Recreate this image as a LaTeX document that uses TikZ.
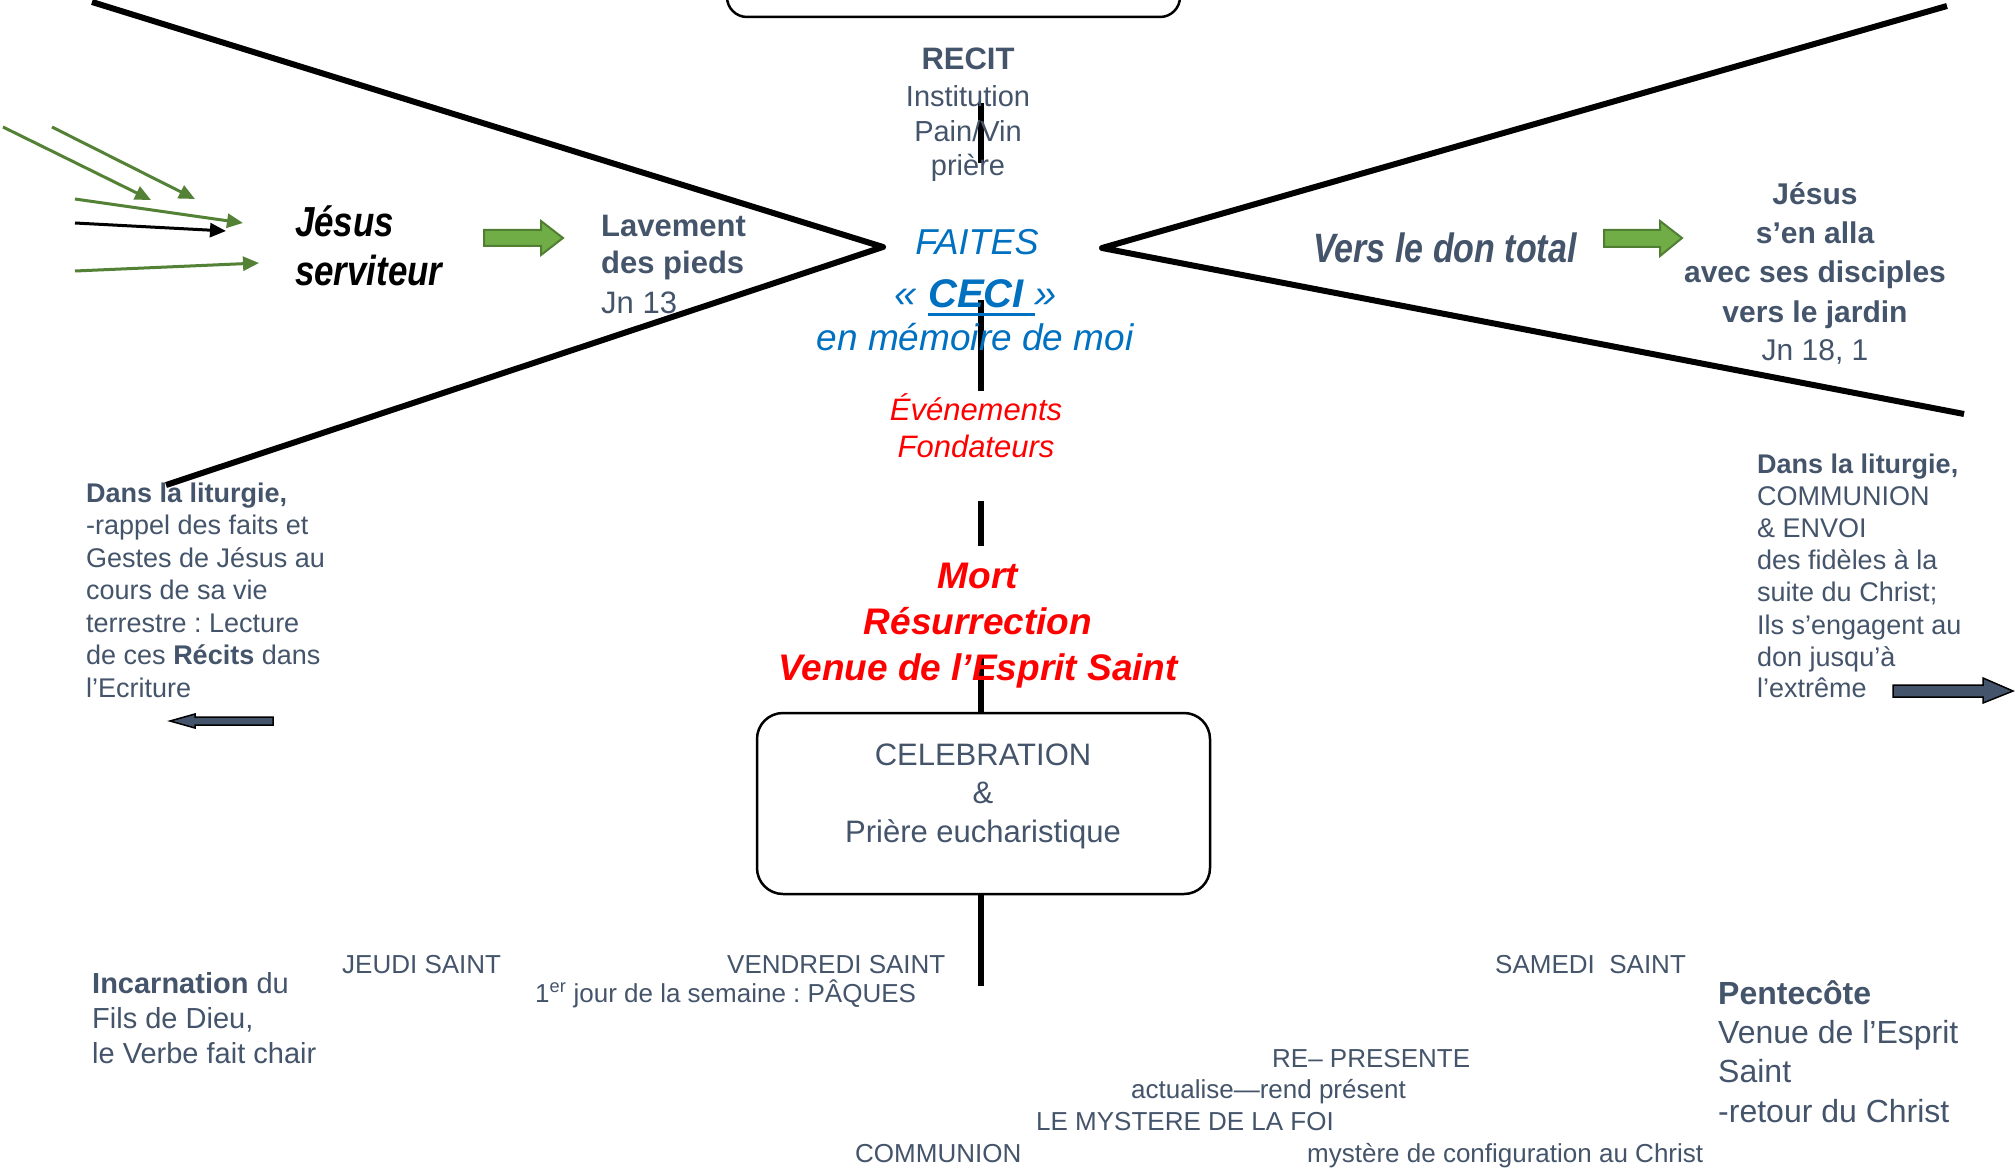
\documentclass[tikz,border=0pt]{standalone}
\usepackage{fontspec}
\setmainfont{Liberation Sans}
\usepackage{graphicx}
\usetikzlibrary{arrows.meta}
\definecolor{slate}{HTML}{44546A}
\definecolor{ablue}{HTML}{0070C0}
\definecolor{ared}{HTML}{FF0000}
\definecolor{gfill}{HTML}{70AD47}
\definecolor{gline}{HTML}{507E32}
\definecolor{gthin}{HTML}{538135}
\frenchspacing
\newcommand\myfs[1]{\fontsize{#1}{#1}\selectfont}
\newsavebox\ulbox
\newcommand\myul[1]{\sbox\ulbox{#1}\rlap{\raisebox{-8pt}{\rule{\wd\ulbox}{3.5pt}}}\usebox\ulbox}
\newcommand\narrow[1]{\scalebox{0.83}[1]{#1}}
\tikzset{
  lt/.style={inner sep=0pt, anchor=base west, text=slate},
  ct/.style={inner sep=0pt, anchor=base, text=slate},
  chev/.style={line width=6pt, line join=round, black},
  vseg/.style={line width=6pt, black},
  thinarr/.style={line width=3pt, -{Triangle[length=16pt,width=14pt]}},
  blockarr/.style={fill=gfill, draw=gline, line width=2pt},
  darkarr/.style={fill=slate, draw=black, line width=1.5pt},
  frame/.style={draw=black, line width=2.5pt, rounded corners=26pt}
}
\begin{document}
\begin{tikzpicture}[x=1pt,y=-1pt]
\useasboundingbox (0,0) rectangle (2015,1174);
\fill[white] (0,0) rectangle (2015,1174);
\clip (0,0) rectangle (2015,1174);

% top box (cut by the top edge)
\draw[frame, rounded corners=20pt] (727,-60) rectangle (1180,17);

% chevrons
\coordinate (lt1) at (92,2);
\coordinate (ltip) at (883,247);
\coordinate (lt2) at (166,485);
\draw[chev] (lt1) -- (ltip) -- (lt2);
\coordinate (rt1) at (1947,6);
\coordinate (rtip) at (1102,248);
\coordinate (rt2) at (1964,414);
\draw[chev] (rt1) -- (rtip) -- (rt2);

% celebration box
\node[frame, minimum width=453pt, minimum height=181pt, inner sep=0pt] (celeb) at (983.5,803.5) {};

% vertical segments
\coordinate (v1a) at (981,103); \coordinate (v1b) at (981,163);
\coordinate (v2a) at (981,300); \coordinate (v2b) at (981,391);
\coordinate (v3a) at (981,501); \coordinate (v3b) at (981,546);
\coordinate (v4a) at (981,655); \coordinate (v4b) at (981,713);
\coordinate (v5a) at (981,894); \coordinate (v5b) at (981,986);
\draw[vseg] (v1a) -- (v1b);
\draw[vseg] (v2a) -- (v2b);
\draw[vseg] (v3a) -- (v3b);
\draw[vseg] (v4a) -- (v4b);
\draw[vseg] (v5a) -- (v5b);

% thin arrows at left
\coordinate (a1s) at (3,127);  \coordinate (a1e) at (151,200);
\coordinate (a2s) at (52,127); \coordinate (a2e) at (195,199);
\coordinate (a3s) at (75,199); \coordinate (a3e) at (243,223);
\coordinate (a4s) at (75,223); \coordinate (a4e) at (226,231);
\coordinate (a5s) at (75,271); \coordinate (a5e) at (259,263);
\draw[thinarr, gthin] (a1s) -- (a1e);
\draw[thinarr, gthin] (a2s) -- (a2e);
\draw[thinarr, gthin] (a3s) -- (a3e);
\draw[thinarr, black] (a4s) -- (a4e);
\draw[thinarr, gthin] (a5s) -- (a5e);

% block arrows
\draw[blockarr] (484,230) -- (541,230) -- (541,221) -- (563,238) -- (541,255) -- (541,246) -- (484,246) -- cycle;
\draw[blockarr] (1604,230) -- (1660,230) -- (1660,221) -- (1682,238) -- (1660,256) -- (1660,247) -- (1604,247) -- cycle;
\draw[darkarr] (273,717) -- (195,717) -- (195,714) -- (170,721) -- (195,728) -- (195,725) -- (273,725) -- cycle;
\draw[darkarr] (1893,685) -- (1983,685) -- (1983,678) -- (2013,691) -- (1983,703) -- (1983,697) -- (1893,697) -- cycle;

% Jesus serviteur
\node[inner sep=0pt, anchor=base west, font=\myfs{42}\bfseries\itshape] (js1) at (295,237) {\narrow{Jésus}};
\node[inner sep=0pt, anchor=base west, font=\myfs{42}\bfseries\itshape] (js2) at (295,285) {\narrow{serviteur}};

% Lavement
\node[lt, font=\myfs{31}\bfseries] (lav1) at (601,237) {Lavement};
\node[lt, font=\myfs{31}\bfseries] (lav2) at (601,274) {des pieds};
\node[lt, font=\myfs{31}] (lav3) at (601,313) {Jn 13};

% RECIT
\node[ct, font=\myfs{31}\bfseries] (rec1) at (968,70) {RECIT};
\node[ct, font=\myfs{29}] (rec2) at (968,107) {Institution};
\node[ct, font=\myfs{29}] (rec3) at (968,142) {Pain/Vin};
\node[ct, font=\myfs{29}] (rec4) at (968,176) {prière};

% FAITES CECI
\node[ct, text=ablue, font=\myfs{36}\itshape] (f1) at (977,255) {FAITES};
\node[ct, text=ablue, font=\myfs{40}\itshape] (f2) at (976,308) {« \myul{\bfseries CECI\ }»};
\node[ct, text=ablue, font=\myfs{37}\itshape] (f3) at (975,350) {en mémoire de moi};

% Evenements fondateurs
\node[ct, text=ared, font=\myfs{31}\itshape] (ev1) at (976,420) {Événements};
\node[ct, text=ared, font=\myfs{31}\itshape] (ev2) at (976,457) {Fondateurs};

% Mort Resurrection
\node[ct, text=ared, font=\myfs{37}\bfseries\itshape] (m1) at (978,588) {Mort};
\node[ct, text=ared, font=\myfs{37}\bfseries\itshape] (m2) at (978,634) {Résurrection};
\node[ct, text=ared, font=\myfs{37}\bfseries\itshape] (m3) at (978,680) {Venue de l’Esprit Saint};

% Celebration text
\node[ct, font=\myfs{31}] (c1) at (983,765) {CELEBRATION};
\node[ct, font=\myfs{31}] (c2) at (983,803) {\&};
\node[ct, font=\myfs{31}] (c3) at (983,842) {Prière eucharistique};

% Vers le don total
\node[lt, font=\myfs{41}\bfseries\itshape] (vd) at (1313,263) {\narrow{Vers le don total}};

% Right block
\node[ct, font=\myfs{30}\bfseries] (r1) at (1815,205) {Jésus};
\node[ct, font=\myfs{30}\bfseries] (r2) at (1815,244) {s’en alla};
\node[ct, font=\myfs{30}\bfseries] (r3) at (1815,283) {avec ses disciples};
\node[ct, font=\myfs{30}\bfseries] (r4) at (1815,322) {vers le jardin};
\node[ct, font=\myfs{30}] (r5) at (1815,360) {Jn 18, 1};

% Left liturgy block
\node[lt, font=\myfs{27}\bfseries] (l1) at (86,502) {Dans la liturgie,};
\node[lt, font=\myfs{27}] (l2) at (86,534.5) {-rappel des faits et};
\node[lt, font=\myfs{27}] (l3) at (86,567) {Gestes de Jésus au};
\node[lt, font=\myfs{27}] (l4) at (86,599.5) {cours de sa vie};
\node[lt, font=\myfs{27}] (l5) at (86,632) {terrestre : Lecture};
\node[lt, font=\myfs{27}] (l6) at (86,664.5) {de ces \textbf{Récits} dans};
\node[lt, font=\myfs{27}] (l7) at (86,697) {l’Ecriture};

% Right liturgy block
\node[lt, font=\myfs{27}\bfseries] (q1) at (1757,473) {Dans la liturgie,};
\node[lt, font=\myfs{27}] (q2) at (1757,505) {COMMUNION};
\node[lt, font=\myfs{27}] (q3) at (1757,537) {\& ENVOI};
\node[lt, font=\myfs{27}] (q4) at (1757,569) {des fidèles à la};
\node[lt, font=\myfs{27}] (q5) at (1757,601) {suite du Christ;};
\node[lt, font=\myfs{27}] (q6) at (1757,634) {Ils s’engagent au};
\node[lt, font=\myfs{27}] (q7) at (1757,666) {don jusqu’à};
\node[lt, font=\myfs{27}] (q8) at (1757,697) {l’extrême};

% bottom texts
\node[lt, font=\myfs{29}] (inc1) at (92,993) {\textbf{Incarnation} du};
\node[lt, font=\myfs{29}] (inc2) at (92,1028) {Fils de Dieu,};
\node[lt, font=\myfs{29}] (inc3) at (92,1063) {le Verbe fait chair};
\node[lt, font=\myfs{26}] (jeudi) at (342,973) {JEUDI SAINT};
\node[lt, font=\myfs{26}] (vendredi) at (727,973) {VENDREDI SAINT};
\node[lt, font=\myfs{26}] (paques) at (535,1002) {1\textsuperscript{er} jour de la semaine : PÂQUES};
\node[lt, font=\myfs{26}] (samedi) at (1495,973) {SAMEDI\ \ SAINT};
\node[lt, font=\myfs{32}\bfseries] (pe1) at (1718,1004) {Pentecôte};
\node[lt, font=\myfs{32}] (pe2) at (1718,1043) {Venue de l’Esprit};
\node[lt, font=\myfs{32}] (pe3) at (1718,1082) {Saint};
\node[lt, font=\myfs{32}] (pe4) at (1718,1122) {-retour du Christ};
\node[lt, font=\myfs{26}] (repr) at (1272,1067) {RE– PRESENTE};
\node[lt, font=\myfs{26}] (actu) at (1131,1098) {actualise—rend présent};
\node[lt, font=\myfs{26}] (myst) at (1036,1130) {LE MYSTERE DE LA FOI};
\node[lt, font=\myfs{26}] (comm) at (855,1162) {COMMUNION};
\node[lt, font=\myfs{26}] (conf) at (1307,1162) {mystère de configuration au Christ};
\end{tikzpicture}
\end{document}
